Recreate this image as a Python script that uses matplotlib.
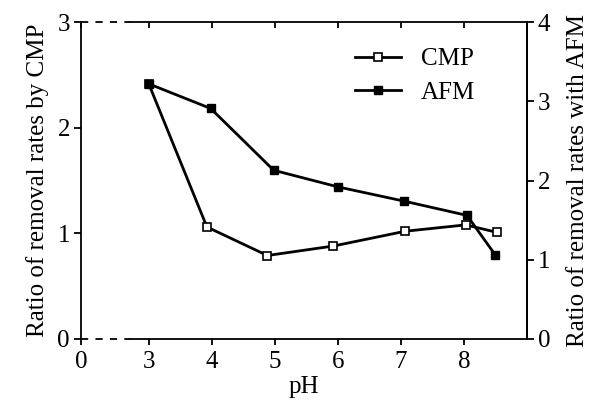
import numpy as np
import matplotlib
matplotlib.use("Agg")
import matplotlib.pyplot as plt

plt.rcParams['font.family'] = ['Liberation Serif', 'DejaVu Serif']
plt.rcParams['font.size'] = 18

# data
ph_cmp = [3.0, 3.92, 4.88, 5.93, 7.07, 8.03, 8.52]
ratio_cmp = [2.41, 1.06, 0.79, 0.88, 1.02, 1.08, 1.01]
ph_afm = [3.0, 3.98, 4.98, 6.0, 7.05, 8.05, 8.5]
ratio_afm = [3.22, 2.91, 2.13, 1.92, 1.74, 1.56, 1.06]

x_ticks = [1.92, 3, 4, 5, 6, 7, 8]
x_labels = ["0", "3", "4", "5", "6", "7", "8"]
x_break = 2.7

fig = plt.figure(figsize=(6, 4.03), dpi=100)
ax = fig.add_axes([0.135, 0.159, 0.743, 0.786])
ax2 = ax.twinx()

p1, = ax.plot(ph_cmp, ratio_cmp, color="black", lw=2, marker="s",
              ms=5.5, mfc="white", mec="black", mew=1.2, label="CMP")
p2, = ax2.plot(ph_afm, ratio_afm, color="black", lw=2, marker="s",
               ms=5.5, mfc="black", mec="black", label="AFM")

ax.set_xlim(1.92, 9.0)
ax.set_ylim(0, 3)
ax2.set_ylim(0, 4)

ax.set_xticks(x_ticks)
ax.set_xticklabels(x_labels)
ax.set_yticks([0, 1, 2, 3])
ax2.set_yticks([0, 1, 2, 3, 4])

# broken x axis: dashed from 0 up to the break, solid after
for sp in ("bottom", "top"):
    ax.spines[sp].set_bounds(x_break, 9.0)
    ax2.spines[sp].set_visible(False)
ax.hlines([0, 3], 1.92, x_break, colors="black", linestyles=(0, (4, 4)),
          lw=1.3, clip_on=False)

for s in ax.spines.values():
    s.set_linewidth(1.3)
ax2.spines["right"].set_linewidth(1.3)
ax2.spines["left"].set_visible(False)

ax.tick_params(axis="x", direction="out", length=4, width=1.3, top=True,
               labeltop=False, pad=5)
ax.tick_params(axis="y", direction="out", length=5, width=1.3, pad=3)
ax2.tick_params(axis="y", direction="out", length=5, width=1.3, pad=3)
for t in ax.xaxis.get_major_ticks():
    t.tick2line.set_marker(3)

ax.set_xlabel("pH", labelpad=2)
ax.set_ylabel("Ratio of removal rates by CMP", labelpad=6)
ax2.set_ylabel("Ratio of removal rates with AFM", labelpad=12)

ax.legend([p1, p2], ["CMP", "AFM"], loc="upper right", frameon=False,
          bbox_to_anchor=(0.935, 0.99), handlelength=1.85, labelspacing=0.45)

fig.savefig("out.png", dpi=100)
